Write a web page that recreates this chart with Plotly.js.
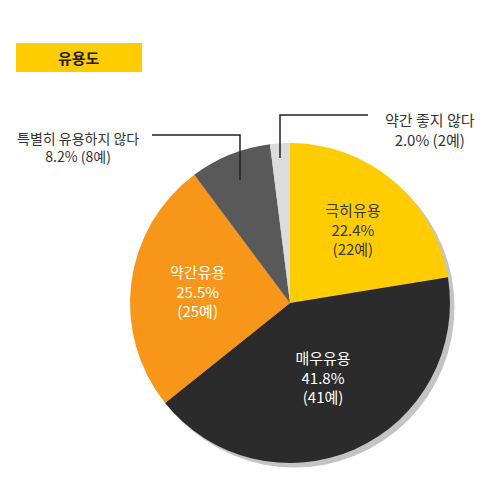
<!DOCTYPE html>
<html><head><meta charset="utf-8">
<script src="https://cdn.plot.ly/plotly-3.0.1.min.js"></script>
<style>html,body{margin:0;padding:0;background:#fff}#c{width:500px;height:500px}</style>
</head><body><div id="c"></div>
<script>
const labels = ['극히유용', '매우유용', '약간유용', '특별히 유용하지 않다', '약간 좋지 않다'];
const percents = [22.4, 41.8, 25.5, 8.2, 2.0];
const counts = [22, 41, 25, 8, 2];
const colors = ['#FFCC00', '#2B2B2B', '#F8961A', '#595959', '#DCDCDC'];
const textColors = ['#3a3a3a', '#ffffff', '#ffffff', '#ffffff', '#ffffff'];
const insideShown = [true, true, true, false, false];
const chartTitle = '유용도';

const font = 'Noto Sans CJK KR, sans-serif';
const insideText = labels.map((l, i) => insideShown[i] ? `${l}<br>${percents[i].toFixed(1)}%<br>(${counts[i]}예)` : '');

const dom = {x: [0.26, 0.90], y: [0.074, 0.714]};
const shadow = {
  type: 'pie', values: [1], labels: ['shadow'], sort: false,
  marker: {colors: ['#c4c4c4'], line: {width: 0}},
  textinfo: 'none', hoverinfo: 'skip', showlegend: false,
  domain: {x: [dom.x[0] + 0.009, dom.x[1] + 0.009], y: [dom.y[0] - 0.009, dom.y[1] - 0.009]}
};
const pie = {
  type: 'pie', values: percents, labels: labels, sort: false, direction: 'clockwise', rotation: 0,
  marker: {colors: colors, line: {width: 0}},
  text: insideText, textinfo: 'text', textposition: 'inside', insidetextorientation: 'horizontal',
  insidetextfont: {family: font, size: 15, color: textColors},
  hoverinfo: 'label+value', showlegend: false, domain: dom
};

const fmtOut = i => `${labels[i]}<br>${percents[i].toFixed(1)}% (${counts[i]}예)`;

const layout = {
  width: 500, height: 500, margin: {l: 0, r: 0, t: 0, b: 0},
  paper_bgcolor: '#fff', showlegend: false,
  shapes: [
    {type: 'rect', xref: 'paper', yref: 'paper', x0: 16/500, x1: 142/500, y0: 1 - 72/500, y1: 1 - 43/500, fillcolor: '#FFCC00', line: {width: 0}},
    {type: 'path', xref: 'paper', yref: 'paper', path: `M ${152/500} ${1-135/500} L ${240/500} ${1-135/500} L ${240/500} ${1-180/500}`, line: {color: '#222', width: 1.5}},
    {type: 'path', xref: 'paper', yref: 'paper', path: `M ${368/500} ${1-115/500} L ${280/500} ${1-115/500} L ${280/500} ${1-158/500}`, line: {color: '#222', width: 1.5}}
  ],
  annotations: [
    {text: '<b>' + chartTitle + '</b>', xref: 'paper', yref: 'paper', x: 79/500, y: 1 - 58/500, xanchor: 'center', yanchor: 'middle', showarrow: false, font: {family: font, size: 15, color: '#222'}},
    {text: fmtOut(3), xref: 'paper', yref: 'paper', x: 78/500, y: 1 - 147/500, xanchor: 'center', yanchor: 'middle', showarrow: false, align: 'center', font: {family: font, size: 14, color: '#333'}},
    {text: fmtOut(4), xref: 'paper', yref: 'paper', x: 430/500, y: 1 - 129/500, xanchor: 'center', yanchor: 'middle', showarrow: false, align: 'center', font: {family: font, size: 15, color: '#333'}}
  ]
};
Plotly.newPlot('c', [shadow, pie], layout, {displayModeBar: false, staticPlot: true});
</script></body></html>
